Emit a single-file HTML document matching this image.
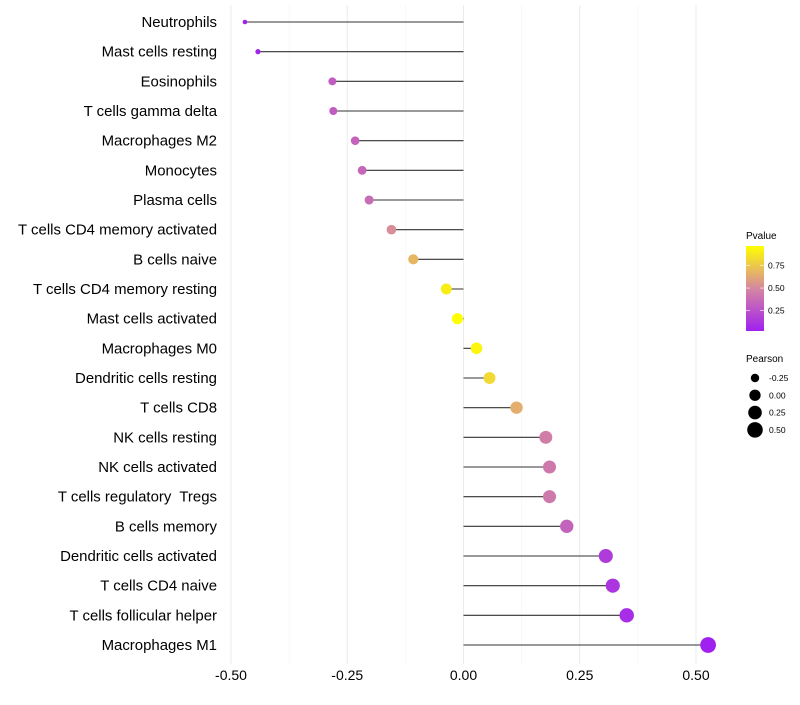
<!DOCTYPE html>
<html><head><meta charset="utf-8"><style>
body{margin:0;background:#fff;font-family:"Liberation Sans",sans-serif}
</style></head><body>
<svg id="c" width="800" height="700" xmlns="http://www.w3.org/2000/svg" font-family="Liberation Sans, sans-serif"></svg>
<script>
const categories=["Neutrophils","Mast cells resting","Eosinophils","T cells gamma delta","Macrophages M2","Monocytes","Plasma cells","T cells CD4 memory activated","B cells naive","T cells CD4 memory resting","Mast cells activated","Macrophages M0","Dendritic cells resting","T cells CD8","NK cells resting","NK cells activated","T cells regulatory  Tregs","B cells memory","Dendritic cells activated","T cells CD4 naive","T cells follicular helper","Macrophages M1"];
const pearson=[-0.47,-0.442,-0.282,-0.28,-0.233,-0.218,-0.203,-0.155,-0.108,-0.037,-0.013,0.028,0.056,0.114,0.177,0.185,0.185,0.222,0.306,0.321,0.351,0.526];
const pvalue=[0.02,0.03,0.3,0.3,0.33,0.35,0.37,0.52,0.68,0.9,0.97,0.93,0.82,0.65,0.45,0.43,0.43,0.33,0.15,0.12,0.08,0.01];
const xTicks=[-0.5,-0.25,0,0.25,0.5];
const xTickLabels=["-0.50","-0.25","0.00","0.25","0.50"];
const pTicks=[0.25,0.5,0.75];
const sizeKeys=[-0.25,0,0.25,0.5];

const svg=document.getElementById('c');const NS="http://www.w3.org/2000/svg";
function el(t,a,p){const e=document.createElementNS(NS,t);for(const k in a)e.setAttribute(k,a[k]);(p||svg).appendChild(e);return e;}
const X=v=>463.5+v*465;
const Y=i=>22+i*(623/21);
const R=v=>Math.sqrt(Math.max(1.8,32+57*v));
function col(p){const s=[[0.02,[160,32,240]],[0.5,[214,136,160]],[0.97,[255,255,0]]];
 p=Math.max(0.02,Math.min(0.97,p));let a=s[0],b=s[1];if(p>0.5){a=s[1];b=s[2];}
 const t=(p-a[0])/(b[0]-a[0]);return 'rgb('+a[1].map((c,i)=>Math.round(c+(b[1][i]-c)*t)).join(',')+')';}
[-0.375,-0.125,0.125,0.375].forEach(v=>{const g=el('line',{x1:X(v),x2:X(v),y1:5,y2:664,stroke:'#f3f3f3','stroke-width':0.6});
});
xTicks.forEach((v,i)=>{const g=el('line',{x1:X(v),x2:X(v),y1:5,y2:664,stroke:'#ebebeb','stroke-width':1});

const t=el('text',{x:X(v),y:680,'text-anchor':'middle','font-size':14,fill:'#000'});t.textContent=xTickLabels[i];
});
categories.forEach((c,i)=>{const y=Y(i);
 const t=el('text',{x:217,y:y+5,'text-anchor':'end','font-size':14.95,fill:'#000','xml:space':'preserve'});t.style.whiteSpace='pre';t.textContent=c;
 
 const l=el('line',{x1:X(0),x2:X(pearson[i]),y1:y,y2:y,stroke:'#333','stroke-width':1.1});
 
 const d=el('circle',{cx:X(pearson[i]),cy:y,r:R(pearson[i]),fill:col(pvalue[i])});
 
});
const lt=el('text',{x:746,y:239,'font-size':10});lt.textContent='Pvalue';

const defs=el('defs',{});const gr=el('linearGradient',{id:'g',x1:0,y1:1,x2:0,y2:0},defs);
for(let k=0;k<=10;k++){const p=0.02+k*0.095;el('stop',{offset:k/10,'stop-color':col(p)},gr);}
const py=p=>331-(p-0.02)/(0.95)*85;
const cb=el('rect',{x:746,y:246,width:18,height:85,fill:'url(#g)'});

pTicks.forEach(p=>{el('line',{x1:746,x2:750,y1:py(p),y2:py(p),stroke:'#fff','stroke-width':0.6});el('line',{x1:760,x2:764,y1:py(p),y2:py(p),stroke:'#fff','stroke-width':0.6});
 const t=el('text',{x:768,y:py(p)+3,'font-size':8.5});t.textContent=p.toFixed(2);
 });
const st=el('text',{x:746,y:362,'font-size':10});st.textContent='Pearson';

sizeKeys.forEach((v,i)=>{const y=378+i*17.3;
 const c=el('circle',{cx:755,cy:y,r:R(v),fill:'#000'});
 
 const t=el('text',{x:769,y:y+3,'font-size':8.5});t.textContent=v.toFixed(2);
 });
</script>
</body></html>
